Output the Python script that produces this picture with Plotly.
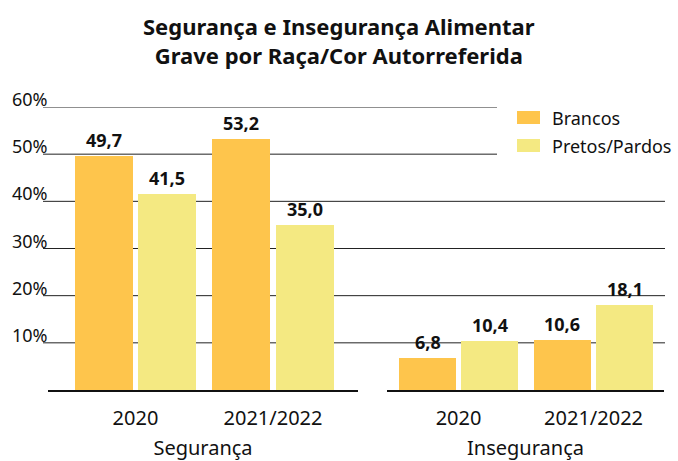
import plotly.graph_objects as go

# ---- data ----
periods = ["2020", "2021/2022"]
groups = ["Segurança", "Insegurança"]
series_names = ["Brancos", "Pretos/Pardos"]
seg_brancos = [49.7, 53.2]
seg_pretos = [41.5, 35.0]
inseg_brancos = [6.8, 10.6]
inseg_pretos = [10.4, 18.1]
y_ticks = [10, 20, 30, 40, 50, 60]
y_tick_labels = ["10%", "20%", "30%", "40%", "50%", "60%"]
title_text = "Segurança e Insegurança Alimentar<br>Grave por Raça/Cor Autorreferida"

colors = {"Brancos": "#FEC54C", "Pretos/Pardos": "#F4E982"}
FONT = "Noto Sans"
W, H = 678, 461
T, B = 107, 71
PH = H - T - B


def px_x(p):
    return p / W


def px_y(p):
    return (H - B - p) / PH


fig = go.Figure()

bw = 0.42
offs = {"Brancos": -0.44, "Pretos/Pardos": 0.02}
data = {
    ("x", "y"): {"Brancos": seg_brancos, "Pretos/Pardos": seg_pretos},
    ("x2", "y2"): {"Brancos": inseg_brancos, "Pretos/Pardos": inseg_pretos},
}
annotations = []
for (xa, ya), ser in data.items():
    for name in series_names:
        vals = ser[name]
        fig.add_trace(go.Bar(
            x=periods, y=vals, name=name, xaxis=xa, yaxis=ya,
            width=bw, offset=offs[name], marker_color=colors[name],
            marker_line_width=0, showlegend=False, hoverinfo="skip",
        ))
        for i, v in enumerate(vals):
            annotations.append(dict(
                x=i + offs[name] + bw / 2, y=v, xref=xa, yref=ya,
                text=f"{v:.1f}".replace(".", ","), showarrow=False,
                yanchor="bottom", yshift=2,
                font=dict(family=FONT, size=18, color="#111", weight="bold"),
            ))

# y tick labels
for v, lab in zip(y_ticks, y_tick_labels):
    annotations.append(dict(
        x=px_x(10), y=v, xref="paper", yref="y", text=lab, showarrow=False,
        xanchor="left", yanchor="bottom", yshift=-6,
        font=dict(family=FONT, size=18, color="#111"),
    ))

# title
annotations.append(dict(
    x=0.5, y=px_y(40), xref="paper", yref="paper", xanchor="center", yanchor="middle",
    text=title_text, showarrow=False,
    font=dict(family=FONT, size=22, color="#111", weight="bold"),
))

# gridlines
shapes = []
for v in y_ticks:
    x1 = 497 if v >= 50 else 665
    shapes.append(dict(type="line", xref="paper", yref="y", x0=px_x(43), x1=px_x(x1),
                       y0=v, y1=v, line=dict(color="#222", width=1), layer="below"))

# legend (manual)
for name, (ytop, ybot) in zip(series_names, [(111, 124), (139, 152)]):
    shapes.append(dict(type="rect", xref="paper", yref="paper",
                       x0=px_x(517), x1=px_x(540), y0=px_y(ybot), y1=px_y(ytop),
                       fillcolor=colors[name], line_width=0, layer="above"))
    annotations.append(dict(x=px_x(550), y=px_y((ytop + ybot) / 2), xref="paper", yref="paper",
                            text=name, showarrow=False, xanchor="left", yanchor="middle",
                            font=dict(family=FONT, size=18, color="#111")))

axis_common = dict(
    type="category", showline=True, linecolor="#111", linewidth=2,
    showgrid=False, ticks="", tickfont=dict(family=FONT, size=20, color="#111"),
    ticklabelstandoff=9, fixedrange=True, automargin=False,
)
fig.update_layout(
    width=W, height=H,
    margin=dict(l=0, r=0, t=T, b=B),
    plot_bgcolor="white", paper_bgcolor="white",
    bargap=0,
    xaxis=dict(axis_common, domain=[px_x(48), px_x(358)], range=[-0.636, 1.618],
               title=dict(text=groups[0], font=dict(family=FONT, size=20, color="#111"), standoff=27)),
    xaxis2=dict(axis_common, domain=[px_x(387), px_x(664)], range=[-0.530, 1.522], anchor="y2",
                title=dict(text=groups[1], font=dict(family=FONT, size=20, color="#111"), standoff=27)),
    yaxis=dict(range=[0, 60], visible=False, fixedrange=True),
    yaxis2=dict(range=[0, 60], visible=False, fixedrange=True, anchor="x2", matches="y"),
    shapes=shapes,
    annotations=annotations,
    showlegend=False,
)

fig.write_html("out.html", config={"displayModeBar": False},
               post_script="document.body.style.margin='0';document.body.style.overflow='hidden';")
